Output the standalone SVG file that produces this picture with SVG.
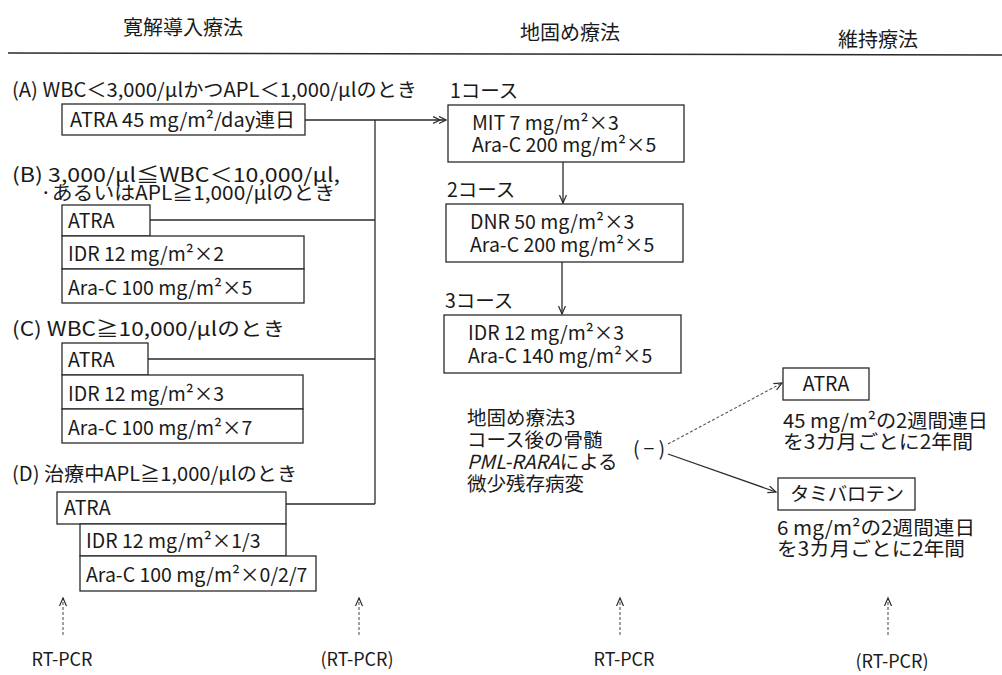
<svg xmlns="http://www.w3.org/2000/svg" width="1002" height="675" viewBox="0 0 1002 675">
<style>
.t{font-family:"Noto Sans CJK JP","Noto Sans",sans-serif;font-size:19.5px;fill:#1a1a1a}
.s{font-size:18px}
.h{font-size:20px}
.box{fill:#fff;stroke:#2a2a2a;stroke-width:1.3}
.ln{fill:none;stroke:#2a2a2a;stroke-width:1.3}
.dl{fill:none;stroke:#555;stroke-width:1.1;stroke-dasharray:3 2}
</style>
<defs>
<marker id="ah" markerWidth="10" markerHeight="10" refX="8" refY="4" orient="auto" markerUnits="userSpaceOnUse">
<path d="M0,0.5 L8,4 L0,7.5" fill="none" stroke="#2a2a2a" stroke-width="1.2"/>
</marker>
<marker id="ah2" markerWidth="16" markerHeight="10" refX="13" refY="4" orient="auto" markerUnits="userSpaceOnUse">
<path d="M0,0.5 L7,4 L0,7.5 M6,0.5 L13,4 L6,7.5" fill="none" stroke="#2a2a2a" stroke-width="1.3"/>
</marker>
</defs>
<rect width="1002" height="675" fill="#fff"/>

<g id="headers">
<text class="t h" x="123" y="35">寛解導入療法</text>
<text class="t h" x="520" y="40">地固め療法</text>
<text class="t h" x="838" y="47">維持療法</text>
<line class="ln" x1="8" y1="53" x2="1002" y2="55"/>
</g>

<g id="connectors">
<line class="ln" x1="305" y1="120" x2="446" y2="120" marker-end="url(#ah2)"/>
<line class="ln" x1="375" y1="120" x2="375" y2="504" stroke-width="2"/>
<line class="ln" x1="150" y1="220" x2="375" y2="220"/>
<line class="ln" x1="148" y1="359" x2="375" y2="359"/>
<line class="ln" x1="286" y1="504" x2="375" y2="504"/>
<line class="ln" x1="563" y1="162" x2="563" y2="203" marker-end="url(#ah)"/>
<line class="ln" x1="562" y1="262" x2="562" y2="314" marker-end="url(#ah)"/>
<line class="dl" x1="668" y1="444" x2="782" y2="383" marker-end="url(#ah)"/>
<line class="ln" x1="668" y1="454" x2="776" y2="492" marker-end="url(#ah)"/>
<line class="dl" x1="63" y1="635" x2="63" y2="598" marker-end="url(#ah)"/>
<line class="dl" x1="359" y1="635" x2="359" y2="598" marker-end="url(#ah)"/>
<line class="dl" x1="620" y1="635" x2="620" y2="598" marker-end="url(#ah)"/>
<line class="dl" x1="888" y1="635" x2="888" y2="598" marker-end="url(#ah)"/>
</g>

<g id="sectionA">
<text class="t" x="12" y="97" textLength="405" lengthAdjust="spacingAndGlyphs">(A) WBC＜3,000/μlかつAPL＜1,000/μlのとき</text>
<rect class="box" x="62" y="104" width="243" height="31"/>
<text class="t" x="70" y="127" textLength="225" lengthAdjust="spacingAndGlyphs">ATRA 45 mg/m²/day連日</text>
</g>

<g id="sectionB">
<text class="t" x="12" y="182" textLength="328" lengthAdjust="spacingAndGlyphs">(B) 3,000/μl≦WBC＜10,000/μl,</text>
<text class="t" x="40" y="200" textLength="295" lengthAdjust="spacingAndGlyphs">·あるいはAPL≧1,000/μlのとき</text>
<rect class="box" x="62" y="205" width="88" height="31"/>
<text class="t" x="68" y="228">ATRA</text>
<rect class="box" x="62" y="236" width="242" height="33"/>
<text class="t" x="68" y="261">IDR 12 mg/m²×2</text>
<rect class="box" x="62" y="269" width="242" height="34"/>
<text class="t" x="68" y="295">Ara-C 100 mg/m²×5</text>
</g>

<g id="sectionC">
<text class="t" x="12" y="336" textLength="273" lengthAdjust="spacingAndGlyphs">(C) WBC≧10,000/μlのとき</text>
<rect class="box" x="62" y="343" width="86" height="32"/>
<text class="t" x="68" y="367">ATRA</text>
<rect class="box" x="62" y="375" width="241" height="34"/>
<text class="t" x="68" y="401">IDR 12 mg/m²×3</text>
<rect class="box" x="62" y="409" width="241" height="34"/>
<text class="t" x="68" y="435">Ara-C 100 mg/m²×7</text>
</g>

<g id="sectionD">
<text class="t" x="12" y="481" textLength="285" lengthAdjust="spacingAndGlyphs">(D) 治療中APL≧1,000/μlのとき</text>
<rect class="box" x="57" y="492" width="229" height="32"/>
<text class="t" x="64" y="515">ATRA</text>
<rect class="box" x="80" y="524" width="206" height="32"/>
<text class="t" x="86" y="548">IDR 12 mg/m²×1/3</text>
<rect class="box" x="80" y="556" width="236" height="35"/>
<text class="t" x="86" y="582">Ara-C 100 mg/m²×0/2/7</text>
</g>

<g id="course1">
<text class="t" x="450" y="98">1コース</text>
<rect class="box" x="448" y="105" width="236" height="57"/>
<text class="t" x="472" y="130">MIT 7 mg/m²×3</text>
<text class="t" x="472" y="152">Ara-C 200 mg/m²×5</text>
</g>

<g id="course2">
<text class="t" x="447" y="197">2コース</text>
<rect class="box" x="446" y="204" width="237" height="58"/>
<text class="t" x="470" y="229">DNR 50 mg/m²×3</text>
<text class="t" x="470" y="252">Ara-C 200 mg/m²×5</text>
</g>

<g id="course3">
<text class="t" x="445" y="308">3コース</text>
<rect class="box" x="444" y="315" width="237" height="58"/>
<text class="t" x="468" y="340">IDR 12 mg/m²×3</text>
<text class="t" x="468" y="363">Ara-C 140 mg/m²×5</text>
</g>

<g id="mrd">
<text class="t" x="467" y="425">地固め療法3</text>
<text class="t" x="467" y="447">コース後の骨髄</text>
<text class="t" x="467" y="469"><tspan font-style="italic">PML-RARA</tspan>による</text>
<text class="t" x="467" y="491">微少残存病変</text>
<text class="t" x="633" y="456" textLength="32" lengthAdjust="spacing">(−)</text>
</g>

<g id="maintATRA">
<rect class="box" x="783" y="368" width="86" height="32"/>
<text class="t" x="826" y="391" text-anchor="middle">ATRA</text>
<text class="t" x="783" y="428" textLength="205" lengthAdjust="spacingAndGlyphs">45 mg/m²の2週間連日</text>
<text class="t" x="783" y="449" textLength="190" lengthAdjust="spacingAndGlyphs">を3カ月ごとに2年間</text>
</g>

<g id="maintTami">
<rect class="box" x="778" y="478" width="137" height="32"/>
<text class="t" x="790" y="501" textLength="114" lengthAdjust="spacing">タミバロテン</text>
<text class="t" x="777" y="535" textLength="198" lengthAdjust="spacingAndGlyphs">6 mg/m²の2週間連日</text>
<text class="t" x="777" y="556" textLength="188" lengthAdjust="spacingAndGlyphs">を3カ月ごとに2年間</text>
</g>

<g id="rtpcr">
<text class="t s" x="62" y="666" text-anchor="middle">RT-PCR</text>
<text class="t s" x="357" y="666" text-anchor="middle">(RT-PCR)</text>
<text class="t s" x="624" y="666" text-anchor="middle">RT-PCR</text>
<text class="t s" x="892" y="668" text-anchor="middle">(RT-PCR)</text>
</g>
</svg>
